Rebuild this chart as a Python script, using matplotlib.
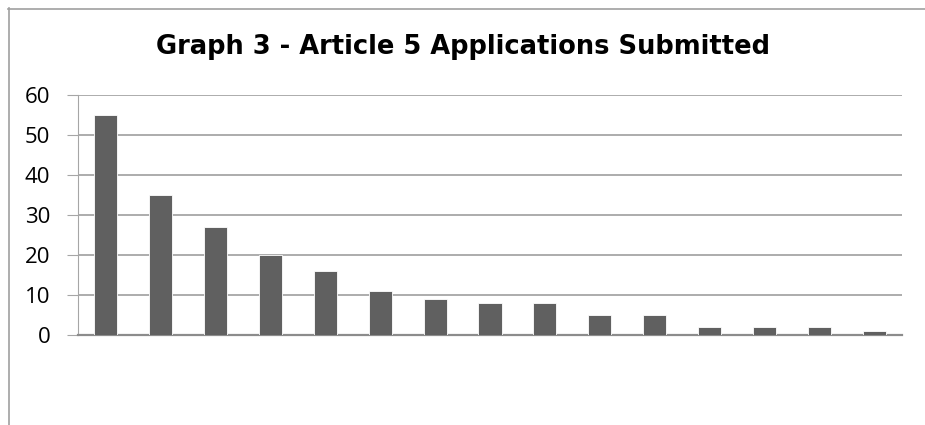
import matplotlib.pyplot as plt
import numpy as np
from matplotlib.lines import Line2D

plt.rcParams['font.family'] = ['Open Sans', 'DejaVu Sans']

values = [55, 35, 27, 20, 16, 11, 9, 8, 8, 5, 5, 2, 2, 2, 1]
yticks = [0, 10, 20, 30, 40, 50, 60]
title = "Graph 3 - Article 5 Applications Submitted"

W, H = 925, 425
fig = plt.figure(figsize=(W / 100, H / 100), dpi=100)
ax = fig.add_axes([78 / W, 1 - 335 / H, (902 - 78) / W, (335 - 95) / H])

x = np.arange(len(values))
ax.bar(x, values, width=0.42, color='#606060', edgecolor='white', linewidth=0.6, zorder=3)

ax.set_xlim(-0.5, len(values) - 0.5)
ax.set_ylim(0, 60)
ax.set_yticks(yticks)
ax.set_xticks([])
ax.grid(True, axis='y', color='#a6a6a6', linewidth=1.3, zorder=0)
for s in ['top', 'right']:
    ax.spines[s].set_visible(False)
ax.spines['left'].set_color('#a6a6a6')
ax.spines['bottom'].set_color('#8c8c8c')
ax.spines['bottom'].set_linewidth(1.6)
ax.tick_params(axis='y', length=8, color='#a6a6a6', labelsize=16, pad=12)

fig.text(0.5, 1 - 47 / H, title, ha='center', va='center', fontsize=18.5,
         fontweight='bold', family='DejaVu Sans')

# outer chart border (only top and left visible)
fig.add_artist(Line2D([8.5 / W, 8.5 / W], [1 - 8 / H, 0], color='#a0a0a0', linewidth=1.2))
fig.add_artist(Line2D([8 / W, 1], [1 - 8.5 / H, 1 - 8.5 / H], color='#a0a0a0', linewidth=1.2))

fig.savefig('out.png', dpi=100)
